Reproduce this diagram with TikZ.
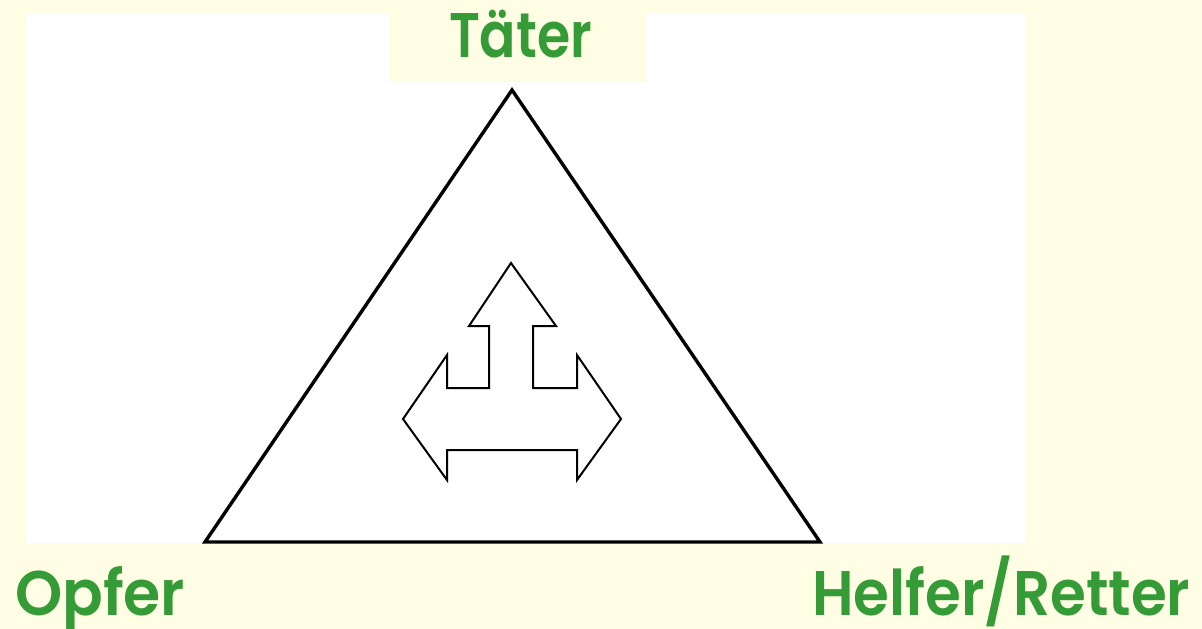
\documentclass[tikz,border=0pt]{standalone}
\usepackage{fontspec}
\usepackage{graphicx}
\newfontfamily\labfont{Poppins}[UprightFont={* SemiBold}]
\definecolor{bgyellow}{HTML}{FFFDE4}
\definecolor{labgreen}{HTML}{359B37}
\tikzset{
  lab/.style={font=\labfont\fontsize{63}{63}\selectfont, text=labgreen, inner sep=0pt},
  outline/.style={draw=black, line width=3.4pt, line join=miter},
  arrowshape/.style={draw=black, line width=2pt, fill=white, line join=miter}
}
\begin{document}
\begin{tikzpicture}[x=1pt,y=-1pt]
\fill[bgyellow] (0,0) rectangle (1202,629);
\useasboundingbox (0,0) rectangle (1202,629);
\fill[white] (26,14) rectangle (1025,543);
\fill[bgyellow] (389,14) rectangle (646,82);
\fill[bgyellow] (0,543) rectangle (222,629);
\fill[bgyellow] (782,543) rectangle (1202,629);
\draw[outline] (512,90) -- (820,542) -- (205,542) -- cycle;
\draw[arrowshape] (511,263) -- (556,326) -- (533,326) -- (533,388) -- (577,388) -- (577,355)
  -- (621,419) -- (577,480) -- (577,450) -- (447,450) -- (447,480) -- (403,419)
  -- (447,355) -- (447,388) -- (489,388) -- (489,326) -- (469,326) -- cycle;
\node[lab, anchor=base] (taeter) at (520.5,57) {\resizebox{143pt}{\height}{Täter}};
\node[lab, anchor=base west] (opfer) at (15,615) {\resizebox{170pt}{\height}{Opfer}};
\node[lab, anchor=base west] (helfer) at (812,615) {\resizebox{378pt}{\height}{Helfer/Retter}};
\end{tikzpicture}
\end{document}
